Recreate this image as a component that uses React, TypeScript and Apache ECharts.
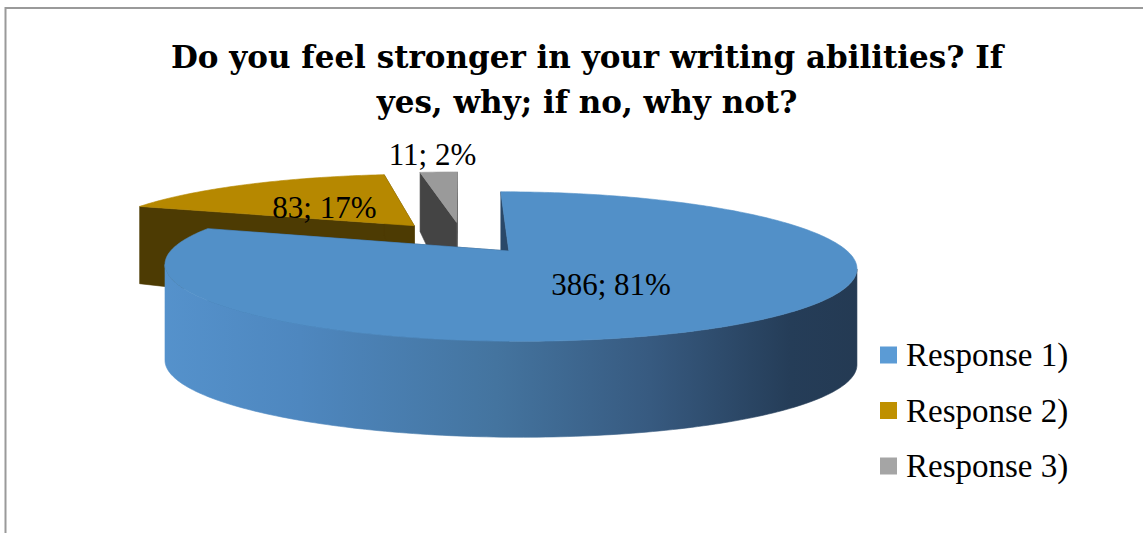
import { useEffect, useRef } from "react";
import * as echarts from "echarts";

// ---- data ----
const categories = ["Response 1)", "Response 2)", "Response 3)"];
const counts = [386, 83, 11];
const legendColors = ["#5B9BD5", "#BF9000", "#A5A5A5"];
const topColors = ["#5290C8", "#B68800", "#9A9A9A"];
const faceColors = ["#2A4868", "#4D3B03", "#444444"];
const titleLines = ["Do you feel stronger in your writing abilities? If", "yes, why; if no, why not?"];

const SERIF = "'Liberation Serif', 'Times New Roman', serif";
const TITLE_FONT = "'DejaVu Serif', 'Liberation Serif', serif";

// ---- 3D pie projection settings ----
const CX = 462;
const CY = 237.5;
const SX = 325;
const KY = 66;
const PERSP = 5;
const EXPLODE = 0.24;
const THICK = 96;

function largestRemainder(vals: number[]): number[] {
  const total = vals.reduce((a, b) => a + b, 0);
  const raw = vals.map((v) => (v / total) * 100);
  const fl = raw.map((r) => Math.floor(r));
  let left = 100 - fl.reduce((a, b) => a + b, 0);
  const order = raw
    .map((r, i) => ({ i, rem: r - Math.floor(r) }))
    .sort((a, b) => b.rem - a.rem);
  for (let k = 0; k < order.length && left > 0; k++, left--) fl[order[k].i] += 1;
  return fl;
}

function project(x: number, z: number): [number, number, number] {
  const s = PERSP / (PERSP - z);
  return [CX + SX * x * s, CY + KY * z * s, s];
}
function thick(s: number) {
  return THICK * Math.pow(Math.min(1, s), 2.2);
}

const total = counts.reduce((a, b) => a + b, 0);
const pcts = largestRemainder(counts);
const starts: number[] = [];
const ends: number[] = [];
{
  let acc = 0;
  counts.forEach((v) => {
    starts.push((acc / total) * Math.PI * 2);
    acc += v;
    ends.push((acc / total) * Math.PI * 2);
  });
}

function makeRenderItem(i: number) {
  return (params: any, api: any) => {
    const value = api.value(0);
    const a0 = starts[i];
    const a1 = ends[i];
    const mid = (a0 + a1) / 2;
    const ox = EXPLODE * Math.sin(mid);
    const oz = -EXPLODE * Math.cos(mid);
    const rim = (a: number) => project(ox + Math.sin(a), oz - Math.cos(a));
    const apex = project(ox, oz);
    const bot = (p: [number, number, number]) => [p[0], p[1] + thick(p[2])];

    const n = Math.max(8, Math.ceil(((a1 - a0) * 180) / Math.PI));
    const pts: [number, number, number][] = [];
    for (let k = 0; k <= n; k++) pts.push(rim(a0 + ((a1 - a0) * k) / n));

    const children: any[] = [];
    // radial faces
    [a0, a1].forEach((a) => {
      const r = rim(a);
      children.push({
        type: "polygon",
        shape: { points: [[apex[0], apex[1]], [r[0], r[1]], bot(r), bot(apex)] },
        style: { fill: faceColors[i], stroke: faceColors[i], lineWidth: 0.6 },
        z2: 1,
      });
    });
    // outer side (front-facing runs)
    const sideFill =
      i === 0
        ? new echarts.graphic.LinearGradient(
            160,
            0,
            860,
            0,
            [
              { offset: 0, color: "#5592CC" },
              { offset: 0.2, color: "#4E87BF" },
              { offset: 0.48, color: "#44749F" },
              { offset: 0.7, color: "#375A80" },
              { offset: 0.9, color: "#253D58" },
              { offset: 1, color: "#243A53" },
            ],
            true
          )
        : faceColors[i];
    let runStart = -1;
    const flush = (endIdx: number) => {
      if (runStart < 0) return;
      const seg = pts.slice(runStart, endIdx + 1);
      const poly = seg.map((p) => [p[0], p[1]]).concat(seg.slice().reverse().map((p) => bot(p)));
      children.push({
        type: "polygon",
        shape: { points: poly },
        style: { fill: sideFill, stroke: sideFill, lineWidth: 0.6 },
        z2: 2,
      });
      runStart = -1;
    };
    for (let k = 0; k < n; k++) {
      const vis = pts[k + 1][0] < pts[k][0];
      if (vis && runStart < 0) runStart = k;
      if (!vis && runStart >= 0) flush(k);
    }
    flush(n);
    // top face
    children.push({
      type: "polygon",
      shape: { points: [[apex[0], apex[1]]].concat(pts.map((p) => [p[0], p[1]])) },
      style: { fill: topColors[i], stroke: topColors[i], lineWidth: 0.6 },
      z2: 3,
    });
    // label
    const frac = value / total;
    const rho = frac < 0.05 ? 1.45 : 0.48;
    const lp = project(ox + rho * Math.sin(mid), oz - rho * Math.cos(mid));
    children.push({
      type: "text",
      x: lp[0] - (frac < 0.05 ? 0 : 4),
      y: lp[1] + (frac < 0.05 ? 0 : 3),
      style: {
        text: `${value}; ${pcts[i]}%`,
        fill: "#000",
        font: `31px ${SERIF}`,
        align: "center",
        verticalAlign: "middle",
      },
      z2: 100,
    });
    return { type: "group", children };
  };
}

export default function App() {
  const ref = useRef<HTMLDivElement>(null);
  useEffect(() => {
    document.body.style.margin = "0";
    if (!ref.current) return;
    const chart = echarts.init(ref.current, undefined, { renderer: "svg" });
    const depth = categories.map((_, i) => -EXPLODE * Math.cos((starts[i] + ends[i]) / 2));
    const rank = depth.map((d) => depth.filter((o) => o < d).length);
    chart.setOption({
      animation: false,
      backgroundColor: "#ffffff",
      title: {
        text: titleLines.join("\n"),
        left: 582,
        top: 29,
        textAlign: "center",
        textStyle: {
          fontFamily: TITLE_FONT,
          fontWeight: "bold",
          fontSize: 31,
          lineHeight: 45,
          color: "#000",
        },
      },
      legend: {
        data: categories,
        orient: "vertical",
        left: 875,
        top: 333.5,
        icon: "rect",
        itemWidth: 17,
        itemHeight: 17,
        itemGap: 22.5,
        textStyle: { fontFamily: SERIF, fontSize: 33, lineHeight: 33, color: "#000", padding: [0, 0, 0, 4] },
      },
      graphic: [
        {
          type: "rect",
          silent: true,
          shape: { x: 5.5, y: 8, width: 1400, height: 700 },
          style: { fill: "none", stroke: "#9A9A9A", lineWidth: 2 },
        },
      ],
      series: categories.map((name, i) => ({
        type: "custom",
        name,
        coordinateSystem: "none",
        z: 2 + rank[i],
        itemStyle: { color: legendColors[i] },
        data: [counts[i]],
        renderItem: makeRenderItem(i),
      })),
    });
    return () => chart.dispose();
  }, []);
  return <div ref={ref} style={{ width: 1143, height: 533 }} />;
}
